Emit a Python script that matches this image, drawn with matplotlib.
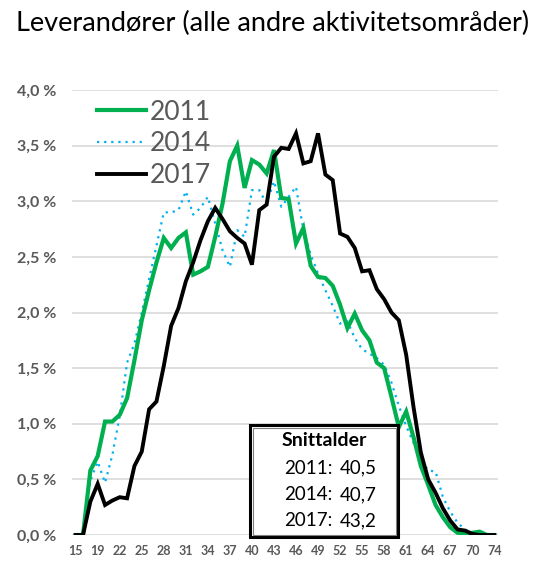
import matplotlib.pyplot as plt
from matplotlib.patches import Rectangle
from matplotlib.ticker import FuncFormatter

# Andel leverandører per alder (%), alle andre aktivitetsområder
alder_etiketter = ['15', '19', '22', '25', '28', '31', '34', '37', '40', '43',
                   '46', '49', '52', '55', '58', '61', '64', '67', '70', '74']

andel_2011 = [0.0, 0.0, 0.58, 0.71, 1.02, 1.02, 1.08, 1.23, 1.57, 1.93,
              2.20, 2.45, 2.67, 2.58, 2.67, 2.72, 2.34, 2.37, 2.41, 2.68,
              2.98, 3.36, 3.50, 3.12, 3.37, 3.33, 3.25, 3.46, 3.03, 3.02,
              2.62, 2.76, 2.42, 2.32, 2.31, 2.24, 2.07, 1.86, 1.99, 1.84,
              1.75, 1.55, 1.50, 1.24, 0.97, 1.11, 0.88, 0.62, 0.45, 0.27,
              0.16, 0.07, 0.02, 0.01, 0.02, 0.03, 0.0, 0.0]

andel_2014 = [0.0, 0.0, 0.49, 0.66, 0.47, 0.72, 1.07, 1.55, 1.72, 2.00,
              2.30, 2.60, 2.90, 2.90, 2.92, 3.09, 2.88, 2.94, 3.04, 2.80,
              2.56, 2.41, 2.74, 2.68, 3.10, 3.10, 2.98, 3.18, 2.95, 3.04,
              3.13, 2.74, 2.52, 2.35, 2.20, 2.06, 1.90, 1.92, 1.77, 1.67,
              1.63, 1.59, 1.53, 1.37, 1.16, 0.98, 0.83, 0.68, 0.58, 0.57,
              0.34, 0.21, 0.11, 0.05, 0.02, 0.01, 0.0, 0.0]

andel_2017 = [0.0, 0.0, 0.30, 0.46, 0.27, 0.31, 0.34, 0.33, 0.62, 0.75,
              1.13, 1.20, 1.52, 1.88, 2.04, 2.28, 2.45, 2.65, 2.82, 2.94,
              2.84, 2.73, 2.67, 2.62, 2.43, 2.92, 2.97, 3.40, 3.48, 3.47,
              3.61, 3.34, 3.36, 3.61, 3.24, 3.19, 2.71, 2.68, 2.58, 2.37,
              2.38, 2.21, 2.12, 2.00, 1.93, 1.62, 1.15, 0.74, 0.50, 0.38,
              0.24, 0.13, 0.05, 0.04, 0.01, 0.0, 0.0, 0.0]

aar = ['2011', '2014', '2017']
snittalder = ['40,5', '40,7', '43,2']

plt.rcParams['font.family'] = ['Lato', 'DejaVu Sans']

fig = plt.figure(figsize=(5.40, 5.61), dpi=100)
ax = fig.add_axes([0.1333, 0.0463, 0.7889, 0.7933])

x = list(range(len(andel_2011)))
ax.plot(x, andel_2011, color='#00B050', lw=3.0, label='2011', zorder=3,
        solid_joinstyle='miter')
ax.plot(x, andel_2014, color='#00B0F0', lw=1.6, ls=(0, (1, 2.2)),
        label='2014', zorder=2)
ax.plot(x, andel_2017, color='black', lw=2.8, label='2017', zorder=4,
        solid_joinstyle='miter')

ax.set_xlim(-0.5, len(x) - 0.5)
ax.set_ylim(0, 4.0)
ax.set_yticks([i * 0.5 for i in range(9)])
ax.yaxis.set_major_formatter(
    FuncFormatter(lambda v, p: f'{v:.1f} %'.replace('.', ',')))
ax.set_xticks(range(0, len(x), 3))
ax.set_xticklabels(alder_etiketter)

ax.grid(axis='y', color='#d9d9d9', lw=1.2)
ax.set_axisbelow(True)
for s in ax.spines.values():
    s.set_visible(False)
ax.tick_params(length=0)
ax.tick_params(axis='y', pad=11, labelsize=11.5, labelcolor='#595959')
ax.tick_params(axis='x', pad=7, labelsize=9, labelcolor='#595959')
for t in ax.get_yticklabels() + ax.get_xticklabels():
    t.set_fontweight('bold')

leg = ax.legend(loc='upper left', bbox_to_anchor=(0.015, 1.02), frameon=False,
                fontsize=19, handlelength=1.85, handletextpad=0.15,
                labelspacing=0.25, borderaxespad=0.3)
for t in leg.get_texts():
    t.set_color('#595959')

fig.text(0.505, 0.958, 'Leverandører (alle andre aktivitetsområder)',
         ha='center', va='center', fontsize=19.5)

# Boks med snittalder
x0, y0, w, h = 250 / 540, 1 - 537 / 561, 148 / 540, 112 / 561
fig.patches.append(Rectangle((x0, y0), w, h, transform=fig.transFigure,
                             facecolor='white', edgecolor='black', lw=2.2,
                             zorder=10))
fig.patches.append(Rectangle((x0 + 2.5 / 540, y0 + 2.5 / 561),
                             w - 5 / 540, h - 5 / 561,
                             transform=fig.transFigure, facecolor='none',
                             edgecolor='#808080', lw=0.8, zorder=11))
fig.text(x0 + w / 2, 1 - 441 / 561, 'Snittalder', ha='center', va='center',
         fontsize=14, fontweight='bold', zorder=12)
for i, (a, s) in enumerate(zip(aar, snittalder)):
    yy = 1 - (468 + i * 26.5) / 561
    fig.text(x0 + 34 / 540, yy, a + ':', ha='left', va='center',
             fontsize=13.5, zorder=12)
    fig.text(x0 + 90 / 540, yy, s, ha='left', va='center',
             fontsize=13.5, zorder=12)

fig.savefig('out.png', dpi=100)
